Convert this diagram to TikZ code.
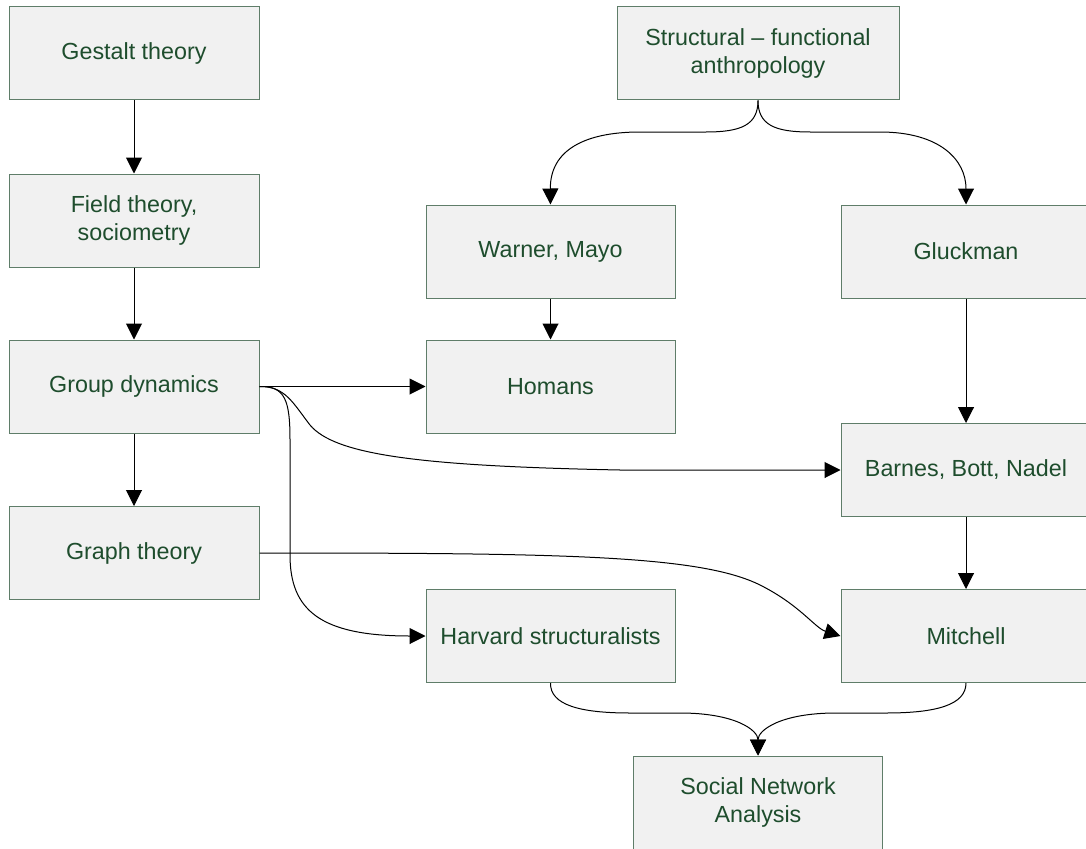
\documentclass[tikz,border=0pt]{standalone}
\usepackage{fontspec}
\setmainfont{Liberation Sans}
\usetikzlibrary{arrows.meta}
\definecolor{boxfill}{RGB}{241,241,241}
\definecolor{boxline}{RGB}{95,125,105}
\definecolor{txt}{RGB}{30,77,45}
\tikzset{
  box/.style={draw=boxline, line width=1pt, fill=boxfill, rectangle, minimum width=250pt, minimum height=93pt,
    inner sep=0pt, align=center, text=txt, font=\fontsize{23.3}{28}\selectfont},
  conn/.style={line width=1pt, draw=black, -{Triangle[length=16pt,width=16pt]}}
}
\begin{document}
\begin{tikzpicture}[x=1pt,y=-1pt]
\useasboundingbox (0,0) rectangle (1086,848);
\clip (0,0) rectangle (1086,848);
\fill[white] (0,0) rectangle (1086,848);
\node[box] (gestalt) at (134,53.5) {Gestalt theory};
\node[box] (field) at (134,220.5) {Field theory,\\sociometry};
\node[box] (group) at (134,386.5) {Group dynamics};
\node[box] (graph) at (134,553) {Graph theory};
\node[box, minimum width=282pt] (struct) at (758,53.5) {Structural -- functional\\anthropology};
\node[box, minimum width=249pt] (warner) at (550.5,251.5) {Warner, Mayo};
\node[box, minimum width=249pt] (homans) at (550.5,386.5) {Homans};
\node[box, minimum width=249pt] (harvard) at (550.5,636) {Harvard structuralists};
\node[box] (gluckman) at (966,251.5) {Gluckman};
\node[box] (barnes) at (966,470) {Barnes, Bott, Nadel};
\node[box] (mitchell) at (966,636) {Mitchell};
\node[box, minimum width=249pt] (sna) at (758,802.5) {Social Network\\Analysis};

\draw[conn] (gestalt.south) -- (field.north);
\draw[conn] (field.south) -- (group.north);
\draw[conn] (group.south) -- (graph.north);
\draw[conn] (group.east) -- (homans.west);
\draw[conn] (warner.south) -- (homans.north);
\draw[conn] (gluckman.south) -- (barnes.north);
\draw[conn] (barnes.south) -- (mitchell.north);

\draw[conn] (struct.south) .. controls (758,125) and (741,132) .. (706,132) -- (640,132)
  .. controls (585,132) and (550,150) .. (warner.north);
\draw[conn] (struct.south) .. controls (758,125) and (775,132) .. (810,132) -- (880,132)
  .. controls (940,132) and (966,160) .. (gluckman.north);

\draw[conn] (group.east) .. controls (285,386) and (293,403) .. (310,425)
  .. controls (335,455) and (420,466) .. (620,470) -- (barnes.west);
\draw[conn] (group.east) .. controls (285,386) and (290,400) .. (290,440) -- (290,555)
  .. controls (290,610) and (320,636) .. (harvard.west);
\draw[conn] (graph.east) .. controls (560,553) and (700,555) .. (760,585)
  .. controls (800,605) and (815,628) .. (mitchell.west);

\draw[conn] (harvard.south) .. controls (550,705) and (580,713) .. (630,713) -- (680,713)
  .. controls (735,713) and (758,730) .. (sna.north);
\draw[conn] (mitchell.south) .. controls (966,705) and (936,713) .. (886,713) -- (836,713)
  .. controls (781,713) and (758,730) .. (sna.north);
\end{tikzpicture}
\end{document}
